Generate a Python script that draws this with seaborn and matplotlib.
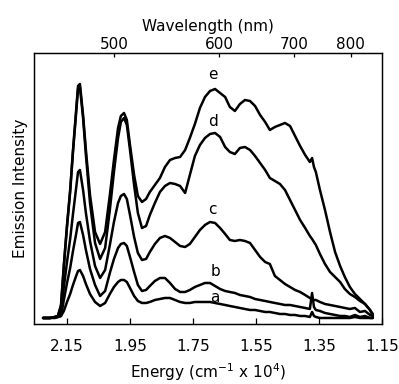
import matplotlib
matplotlib.use("Agg")
import matplotlib.pyplot as plt
import pandas as pd
import seaborn as sns

# Photon energy (10^4 cm^-1), shared by all five spectra
energy = [2.226, 2.204, 2.188, 2.179, 2.169, 2.160, 2.150, 2.140, 2.131, 2.121,
          2.115, 2.109, 2.099, 2.090, 2.077, 2.061, 2.045, 2.029, 2.014, 2.001,
          1.988, 1.979, 1.969, 1.960, 1.950, 1.937, 1.925, 1.912, 1.899, 1.887,
          1.871, 1.855, 1.839, 1.823, 1.807, 1.791, 1.775, 1.760, 1.744, 1.728,
          1.712, 1.696, 1.680, 1.664, 1.648, 1.633, 1.617, 1.601, 1.585, 1.569,
          1.553, 1.537, 1.521, 1.506, 1.490, 1.474, 1.458, 1.442, 1.426, 1.410,
          1.394, 1.379, 1.372, 1.366, 1.360, 1.347, 1.331, 1.315, 1.299, 1.283,
          1.268, 1.252, 1.236, 1.220, 1.204, 1.188, 1.179]

# Emission intensity (arb. units) of spectra a-e
spec_a = [6, 6, 6, 7, 8, 13, 22, 30, 39, 48,
          53, 54, 48, 40, 30, 22, 18, 21, 30, 37,
          42, 44, 44, 42, 36, 28, 23, 21, 21, 22,
          24, 25, 26, 26, 24, 22, 21, 21, 22, 22,
          22, 22, 21, 20, 19, 18, 17, 16, 15, 14,
          14, 13, 12, 12, 11, 10, 10, 9, 9, 8,
          8, 7, 12, 8, 7, 6, 6, 6, 6, 6,
          6, 6, 7, 6, 6, 6, 6]
spec_b = [6, 6, 7, 7, 8, 24, 41, 56, 73, 90,
          101, 102, 89, 74, 55, 39, 28, 33, 51, 65,
          76, 80, 81, 78, 67, 52, 39, 33, 34, 38,
          43, 46, 46, 41, 35, 32, 32, 34, 37, 39,
          41, 41, 38, 35, 33, 32, 31, 29, 28, 27,
          25, 24, 23, 22, 21, 20, 19, 19, 18, 17,
          16, 15, 31, 17, 14, 13, 11, 10, 9, 8,
          8, 7, 9, 7, 8, 6, 6]
spec_c = [6, 6, 7, 7, 12, 37, 62, 85, 110, 136,
          152, 154, 134, 111, 83, 58, 46, 54, 79, 102,
          121, 128, 130, 125, 109, 87, 71, 64, 65, 72,
          80, 86, 88, 86, 82, 78, 77, 80, 87, 94,
          99, 102, 101, 96, 90, 84, 83, 84, 83, 81,
          74, 67, 62, 60, 48, 44, 40, 37, 34, 32,
          29, 26, 25, 24, 24, 22, 20, 19, 18, 17,
          16, 15, 16, 12, 13, 9, 8]
spec_d = [6, 6, 7, 8, 18, 58, 97, 132, 172, 211,
          235, 237, 206, 169, 121, 81, 65, 76, 114, 152,
          186, 202, 206, 199, 174, 139, 111, 96, 98, 109,
          121, 132, 138, 141, 140, 138, 131, 149, 168, 179,
          186, 190, 191, 187, 177, 172, 170, 176, 177, 174,
          168, 161, 154, 146, 143, 140, 134, 124, 114, 104,
          96, 88, 85, 82, 79, 70, 60, 52, 47, 42,
          35, 30, 27, 23, 20, 14, 10]
spec_e = [6, 6, 7, 8, 19, 59, 99, 134, 174, 214,
          238, 240, 209, 174, 129, 92, 80, 92, 129, 164,
          196, 208, 211, 204, 179, 149, 128, 122, 125, 132,
          139, 146, 157, 164, 166, 167, 174, 186, 200, 216,
          227, 233, 235, 231, 227, 217, 213, 220, 224, 223,
          218, 209, 202, 194, 197, 199, 201, 198, 188, 178,
          169, 162, 166, 157, 152, 134, 114, 92, 72, 58,
          47, 37, 30, 25, 20, 14, 8]

curve_names = ["a", "b", "c", "d", "e"]
curve_values = [spec_a, spec_b, spec_c, spec_d, spec_e]

# Curve annotations: (energy, intensity)
label_pos = {"e": (1.6865, 249), "d": (1.6865, 202), "c": (1.690, 114),
             "b": (1.680, 52), "a": (1.680, 26)}

energy_ticks = [2.15, 1.95, 1.75, 1.55, 1.35, 1.15]
wavelength_ticks = [500, 600, 700, 800]

frames = [pd.DataFrame({"energy": energy, "intensity": vals, "curve": name})
          for name, vals in zip(curve_names, curve_values)]
df = pd.concat(frames, ignore_index=True)

sns.set_theme(style="ticks")
plt.rcParams["font.family"] = ["DejaVu Sans"]
plt.rcParams["axes.edgecolor"] = "black"
plt.rcParams["axes.linewidth"] = 0.9

FS = 11

fig = plt.figure(figsize=(3.99, 3.84), dpi=100)
ax = fig.add_axes([0.0852, 0.1563, 0.8722, 0.7057])

sns.lineplot(data=df, x="energy", y="intensity", units="curve",
             estimator=None, color="black", lw=1.8, ax=ax, legend=False)

ax.set_xlim(2.2548, 1.15)
ax.set_ylim(0, 271)
ax.set_yticks([])
ax.set_xticks(energy_ticks)
ax.set_xticklabels([f"{t:.2f}" for t in energy_ticks])
ax.tick_params(axis="x", direction="in", length=4, width=0.9, pad=11,
               labelsize=FS, colors="black")
ax.set_xlabel(r"Energy (cm$^{-1}$ x 10$^{4}$)", fontsize=FS, labelpad=5,
              color="black")
ax.set_ylabel("Emission Intensity", fontsize=FS, labelpad=4, color="black")

for name, (ex, iy) in label_pos.items():
    ax.text(ex, iy, name, ha="center", va="center", fontsize=FS,
            color="black")

top = ax.twiny()
top.set_xlim(ax.get_xlim())
top.set_xticks([1000.0 / w for w in wavelength_ticks])
top.set_xticklabels([str(w) for w in wavelength_ticks])
top.tick_params(axis="x", direction="in", length=3, width=0.9, pad=1,
                labelsize=FS, colors="black")
top.set_xlabel("Wavelength (nm)", fontsize=FS, labelpad=4, color="black")

for a in (ax, top):
    for s in a.spines.values():
        s.set_color("black")
        s.set_linewidth(0.9)

fig.savefig("out.png", dpi=100)
